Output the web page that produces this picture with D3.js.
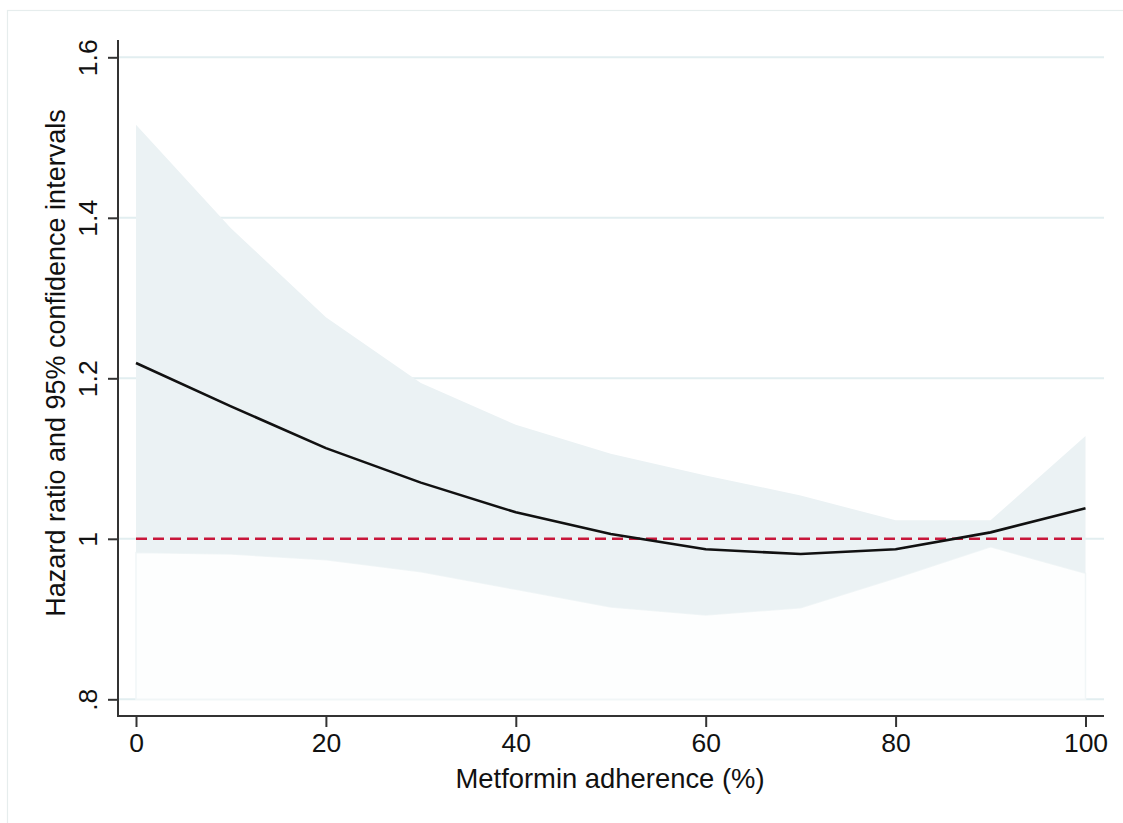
<!DOCTYPE html>
<html>
<head>
<meta charset="utf-8">
<script src="https://cdn.jsdelivr.net/npm/d3@7"></script>
<style>
  body { margin: 0; background: #fff; }
  text { font-family: "Liberation Sans", Arial, Helvetica, sans-serif; fill: #111; }
</style>
</head>
<body>
<div id="chart"></div>
<script>
// adherence (%) and estimated hazard ratio with 95% CI
const adherence = [0, 10, 20, 30, 40, 50, 60, 70, 80, 90, 100];
const hazard    = [1.219, 1.165, 1.113, 1.070, 1.033, 1.006, 0.987, 0.981, 0.987, 1.008, 1.038];
const upperCI   = [1.516, 1.387, 1.276, 1.194, 1.142, 1.106, 1.079, 1.054, 1.023, 1.023, 1.128];
const lowerCI   = [0.983, 0.981, 0.974, 0.959, 0.937, 0.915, 0.905, 0.914, 0.951, 0.990, 0.957];

const xTicks = [0, 20, 40, 60, 80, 100];
const yTicks = [0.8, 1.0, 1.2, 1.4, 1.6];
const yLabels = ['.8', '1', '1.2', '1.4', '1.6'];
const refValue = 1;

const width = 1123, height = 823;
const axisX = 118, axisY = 716;     // axis lines
const plotRight = 1104, plotTop = 40;

const x = d3.scaleLinear().domain([0, 100]).range([136, 1085.5]);
const y = d3.scaleLinear().domain([0.8, 1.6]).range([699.3, 57.3]);

const svg = d3.select('#chart').append('svg')
    .attr('width', width)
    .attr('height', height);

// light frame around the graph region
svg.append('rect')
    .attr('x', 7.5).attr('y', 10.5)
    .attr('width', 1130).attr('height', 830)
    .attr('fill', 'none')
    .attr('stroke', '#e6eded')
    .attr('stroke-width', 1.2);

// gridlines
svg.append('g').selectAll('line')
    .data(yTicks)
    .join('line')
    .attr('x1', axisX).attr('x2', plotRight)
    .attr('y1', d => y(d)).attr('y2', d => y(d))
    .attr('stroke', '#e2eef0')
    .attr('stroke-width', 2);

const data = adherence.map((a, i) => ({a: a, hr: hazard[i], lo: lowerCI[i], hi: upperCI[i]}));

// faint region below lower bound
svg.append('path')
    .datum(data)
    .attr('d', d3.area().x(d => x(d.a)).y0(y(0.8)).y1(d => y(d.lo)))
    .attr('fill', '#fdfefe')
    .attr('stroke', '#f1f6f7')
    .attr('stroke-width', 1.5);

// confidence band
svg.append('path')
    .datum(data)
    .attr('d', d3.area().x(d => x(d.a)).y0(d => y(d.lo)).y1(d => y(d.hi)))
    .attr('fill', '#ebf2f4');

// reference line at HR = 1
svg.append('line')
    .attr('x1', x(0)).attr('x2', x(100))
    .attr('y1', y(refValue)).attr('y2', y(refValue))
    .attr('stroke', '#c8173a')
    .attr('stroke-width', 2.5)
    .attr('stroke-dasharray', '11,6');

// hazard ratio curve
svg.append('path')
    .datum(data)
    .attr('d', d3.line().x(d => x(d.a)).y(d => y(d.hr)))
    .attr('fill', 'none')
    .attr('stroke', '#111')
    .attr('stroke-width', 2.6)
    .attr('stroke-linejoin', 'round');

// axes
const xAxis = svg.append('g')
    .attr('transform', 'translate(0,' + axisY + ')')
    .call(d3.axisBottom(x).tickValues(xTicks).tickSize(11).tickPadding(6).tickFormat(d3.format('d')));
xAxis.select('.domain').remove();
xAxis.append('line')
    .attr('x1', axisX).attr('x2', plotRight)
    .attr('stroke', '#333').attr('stroke-width', 2);
xAxis.selectAll('.tick line').attr('stroke', '#333').attr('stroke-width', 2);
xAxis.selectAll('.tick text')
    .attr('font-size', 26.5)
    .attr('fill', '#111')
    .attr('dy', '0.71em');

const yAxis = svg.append('g')
    .attr('transform', 'translate(' + axisX + ',0)')
    .call(d3.axisLeft(y).tickValues(yTicks).tickSize(10).tickFormat((d, i) => yLabels[i]));
yAxis.select('.domain').remove();
yAxis.append('line')
    .attr('y1', plotTop).attr('y2', axisY + 1)
    .attr('stroke', '#333').attr('stroke-width', 2);
yAxis.selectAll('.tick line').attr('stroke', '#333').attr('stroke-width', 2);
yAxis.selectAll('.tick text')
    .attr('font-size', 26.5)
    .attr('fill', '#111')
    .attr('x', null).attr('dy', null)
    .attr('text-anchor', 'middle')
    .attr('transform', 'translate(-21,0) rotate(-90)');

// axis titles
svg.append('text')
    .attr('x', 610).attr('y', 788)
    .attr('text-anchor', 'middle')
    .attr('font-size', 27.4)
    .text('Metformin adherence (%)');

svg.append('text')
    .attr('transform', 'translate(65,363) rotate(-90)')
    .attr('text-anchor', 'middle')
    .attr('font-size', 27)
    .text('Hazard ratio and 95% confidence intervals');
</script>
</body>
</html>
